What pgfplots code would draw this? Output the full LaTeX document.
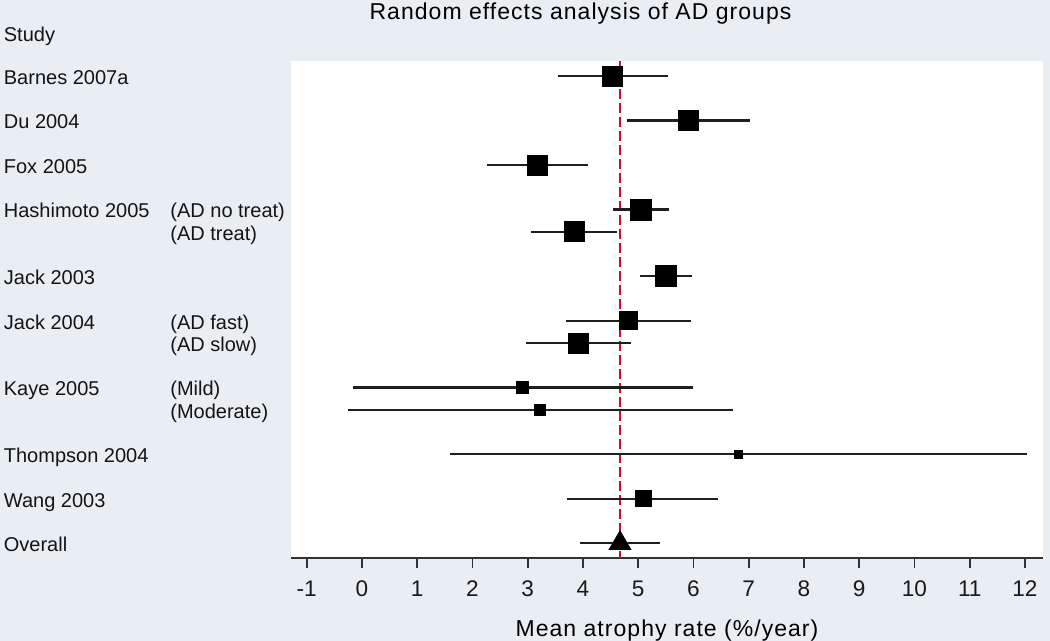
\documentclass[border=0pt]{standalone}
\usepackage{pgfplots}
\usepackage{pgfplotstable}
\pgfplotsset{compat=1.18}
\usepackage{fontspec}
\setmainfont{Liberation Sans}
\newfontfamily\trackfont{Liberation Sans}[LetterSpace=4.5]
\definecolor{bg}{RGB}{232,238,242}
\definecolor{redline}{RGB}{200,16,46}
\definecolor{axgray}{RGB}{50,50,50}
\definecolor{ci}{RGB}{30,30,30}

\pgfplotstableread{
row x lo hi s
0 4.53 3.55 5.53 5
2 5.91 4.80 7.02 5
4 3.17 2.26 4.10 5
6 5.04 4.55 5.56 5.25
7 3.84 3.06 4.62 5
9 5.50 5.04 5.98 5.25
11 4.82 3.69 5.95 4.5
12 3.92 2.97 4.87 5
14 2.91 -0.17 6.00 3
15 3.22 -0.25 6.71 2.75
17 6.81 1.60 12.04 2
19 5.10 3.72 6.44 4
}\studies

\pgfplotstableread{
row x lo hi
21 4.67 3.94 5.39
}\overall

\begin{document}
\begin{tikzpicture}
\path[use as bounding box] (0,0) rectangle (525pt,320.5pt);
\fill[bg] (0,0) rectangle (525pt,320.5pt);
\fill[white] (145.5pt,41.5pt) rectangle (521.5pt,290pt);
\begin{axis}[
 at={(145.5pt,41.5pt)}, anchor=south west,
 scale only axis, width=376pt, height=248.5pt,
 xmin=-1.284, xmax=12.326, ymin=-0.674, ymax=21.663, y dir=reverse,
 axis x line=bottom, axis y line=none,
 axis line style={-, line width=1.1pt, draw=axgray},
 xtick={-1,0,...,12}, ytick=\empty,
 tick align=outside, major tick length=5pt,
 every tick/.style={line width=0.9pt, draw=axgray},
 x tick label style={font=\fontsize{11.3}{13}\selectfont, text=black!90, yshift=-3pt},
 /pgf/number format/assume math mode=true,
 clip=false,
]
\addplot[redline, line width=1.4pt, dash pattern=on 5pt off 2pt] coordinates {(4.67,-0.674) (4.67,21.663)};
\addplot[draw=none, mark=none, error bars/.cd, x dir=both, x explicit, error mark=none,
  error bar style={line width=1.05pt, draw=ci}]
  table[x=x, y=row, x error plus expr=\thisrow{hi}-\thisrow{x}, x error minus expr=\thisrow{x}-\thisrow{lo}] {\studies};
\addplot[draw=none, mark=none, error bars/.cd, x dir=both, x explicit, error mark=none,
  error bar style={line width=1.05pt, draw=ci}]
  table[x=x, y=row, x error plus expr=\thisrow{hi}-\thisrow{x}, x error minus expr=\thisrow{x}-\thisrow{lo}] {\overall};
\addplot[only marks, mark=square*, scatter,
  scatter/use mapped color={draw=black, fill=black},
  visualization depends on={\thisrow{s} \as \perpointmarksize},
  scatter/@pre marker code/.append style={/tikz/mark size=\perpointmarksize}]
  table[x=x, y=row] {\studies};
\addplot[only marks, mark=triangle*, mark size=6.25pt, mark options={draw=black, fill=black}]
  table[x=x, y=row] {\overall};
\end{axis}
\node[anchor=base, inner sep=0, font=\trackfont\fontsize{11.5}{13}\selectfont] at (290.25pt,310.5pt) {Random effects analysis of AD groups};
\node[anchor=base, inner sep=0, font=\trackfont\fontsize{11.5}{13}\selectfont] at (333.5pt,2.25pt) {Mean atrophy rate (\%/year)};
\begin{scope}[every node/.style={anchor=base west, inner sep=0, font=\fontsize{10}{12}\selectfont, text=black!92}]
\node at (1.75pt,299.65pt) {Study};
\node at (1.75pt,278.25pt) {Barnes 2007a};
\node at (1.75pt,256.0pt) {Du 2004};
\node at (1.75pt,233.75pt) {Fox 2005};
\node at (1.75pt,211.5pt) {Hashimoto 2005};
\node at (85pt,211.5pt) {(AD no treat)};
\node at (85pt,200.375pt) {(AD treat)};
\node at (1.75pt,178.125pt) {Jack 2003};
\node at (1.75pt,155.875pt) {Jack 2004};
\node at (85pt,155.875pt) {(AD fast)};
\node at (85pt,144.75pt) {(AD slow)};
\node at (1.75pt,122.5pt) {Kaye 2005};
\node at (85pt,122.5pt) {(Mild)};
\node at (85pt,111.375pt) {(Moderate)};
\node at (1.75pt,89.125pt) {Thompson 2004};
\node at (1.75pt,66.875pt) {Wang 2003};
\node at (1.75pt,44.625pt) {Overall};
\end{scope}
\end{tikzpicture}
\end{document}
